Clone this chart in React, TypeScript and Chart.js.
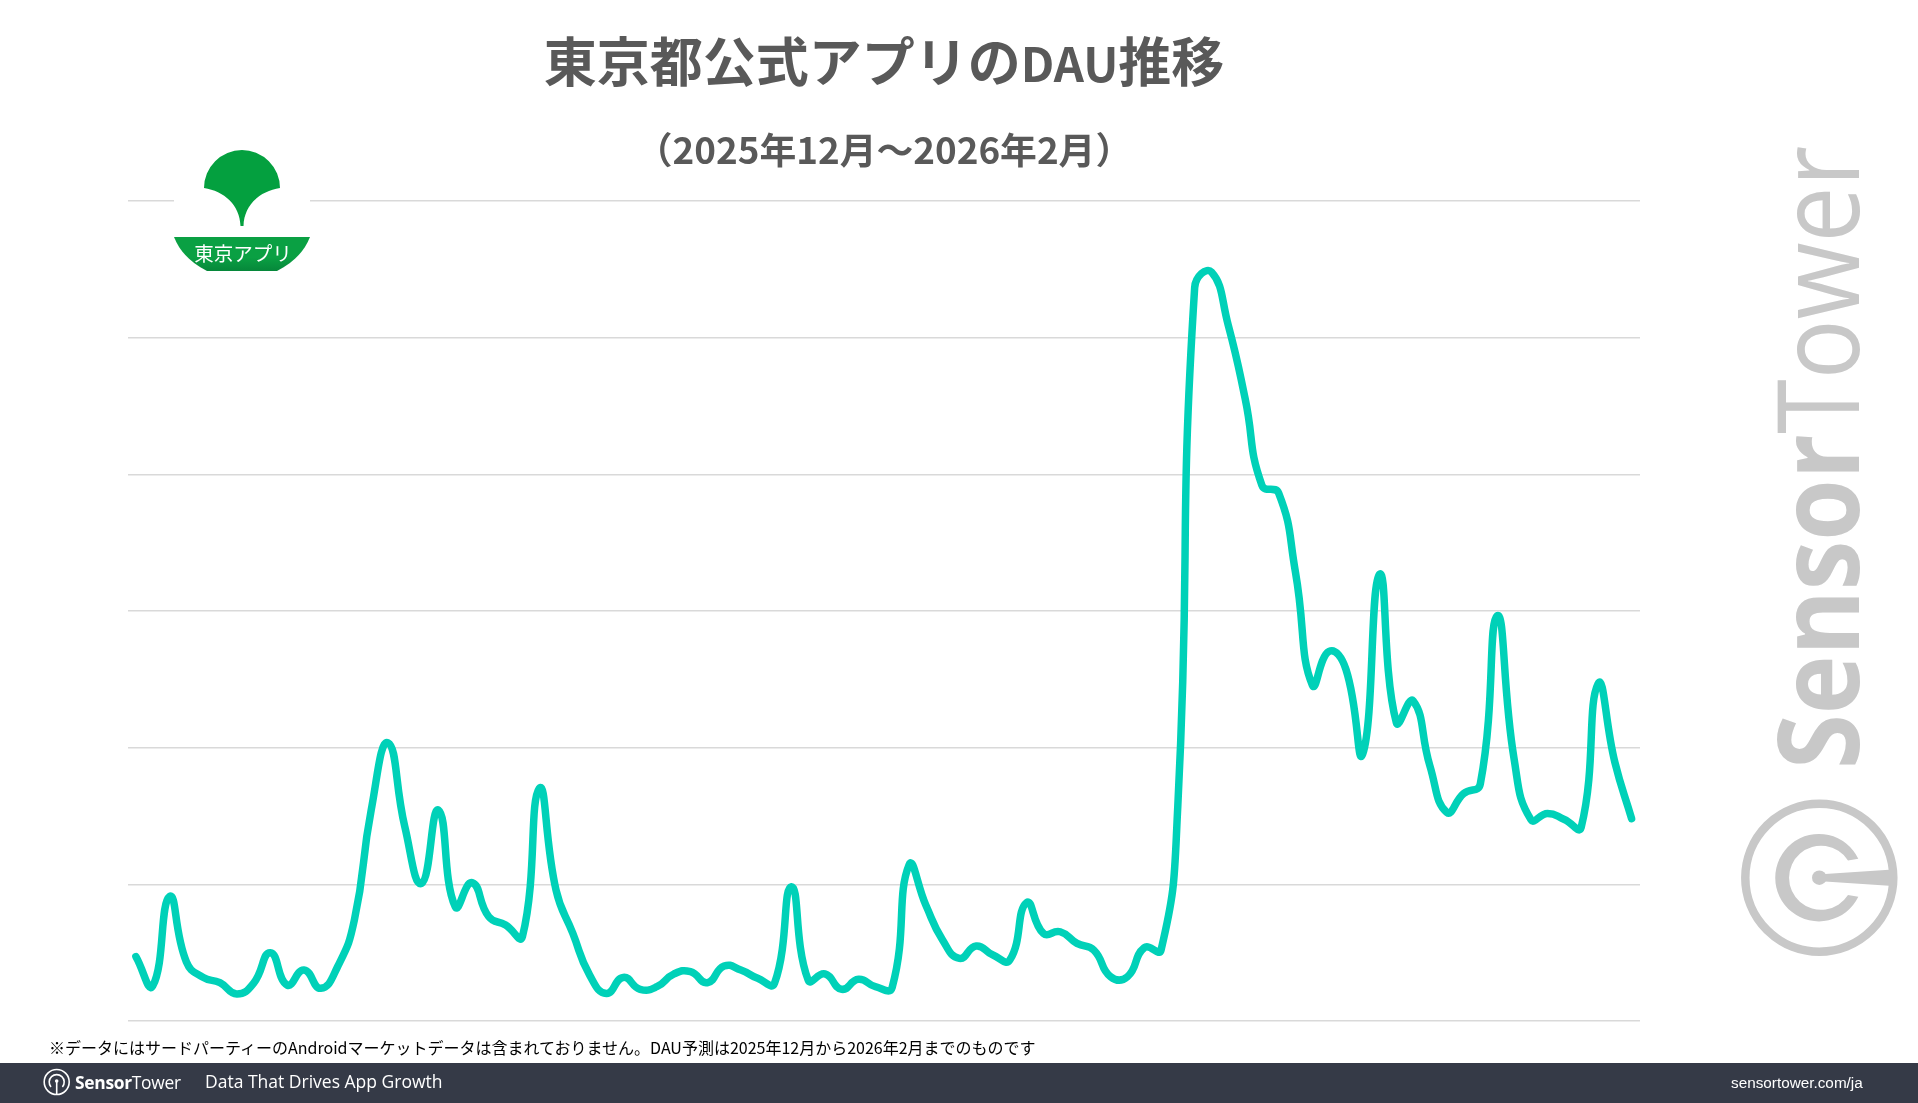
import { useEffect, useRef } from 'react'
import { Chart, registerables } from 'chart.js'

Chart.register(...registerables)

// DAU, unit = 1/10 of a grid step (the original has no axis labels)
const decDau = [
  4.71, 2.56, 9.1, 4.34, 3.19, 2.8, 1.98, 2.76, 5.0, 2.63, 3.73, 2.39, 3.97, 7.39, 15.43, 20.36,
  14.22, 10.07, 15.43, 8.36, 10.12, 7.63, 7.02, 6.17, 17.02, 9.58, 6.41, 3.36, 2.02, 3.19, 2.32,
]
const janDau = [
  2.51, 3.43, 3.61, 2.8, 4.02, 3.73, 3.12, 2.76, 9.83, 3.0, 3.44, 2.32, 3.05, 2.51, 2.46, 11.41,
  8.49, 5.93, 4.58, 5.49, 4.83, 4.46, 8.66, 6.41, 6.53, 5.68, 5.19, 3.24, 3.24, 5.36, 5.19,
]
const febDau = [
  15.8, 53.66, 54.8, 50.91, 45.56, 39.2, 38.62, 32.83, 24.59, 27.05, 25.74, 19.53, 32.69, 21.84,
  23.43, 18.66, 15.27, 16.63, 17.36, 29.65, 19.24, 14.75, 15.19, 14.75, 14.17, 24.67, 18.95, 14.81,
]
const dau = [...decDau, ...janDau, ...febDau]

const days = [
  ...decDau.map((_, i) => `2025-12-${i + 1}`),
  ...janDau.map((_, i) => `2026-01-${i + 1}`),
  ...febDau.map((_, i) => `2026-02-${i + 1}`),
]

const subtitleText = '（2025年12月〜2026年2月）'
const noteText = '※データにはサードパーティーのAndroidマーケットデータは含まれておりません。DAU予測は2025年12月から2026年2月までのものです'

const CJK = '"Noto Sans CJK JP", "Noto Sans", sans-serif'
const LATIN = '"Open Sans", "Noto Sans", sans-serif'

function Overlay() {
  return (
    <svg width={1918} height={1103} style={{ position: 'absolute', left: 0, top: 0 }}>
      <defs>
        <linearGradient id="band" x1="0" y1="0" x2="0" y2="1">
          <stop offset="0" stopColor="#0aa043" />
          <stop offset="0.6" stopColor="#0aa043" />
          <stop offset="1" stopColor="#06873a" />
        </linearGradient>
      </defs>

      {/* DAU is visibly smaller than the kana and kanji around it */}
      <text x={884} y={82} textAnchor="middle" fontFamily={CJK} fontWeight={700} fontSize={53} fill="#595959">
        東京都公式アプリの<tspan fontSize={47}>DAU</tspan>推移
      </text>
      <text x={884} y={164} textAnchor="middle" fontFamily={CJK} fontWeight={700} fontSize={36.8} fill="#595959">
        {subtitleText}
      </text>

      {/* tokyo app logo, sits on top of the top gridline */}
      <rect x={174} y={190} width={136} height={48} fill="#fff" />
      <path
        d="M204 188 A38 38 0 0 1 280 188 C260 191 244 205 243.5 226 L240.5 226 C240 205 224 191 204 188 Z"
        fill="#04a03f"
      />
      <path d="M174 237 H310 C304 252 293 263 277 271 H207 C191 263 180 252 174 237 Z" fill="url(#band)" />
      <text x={243} y={261} textAnchor="middle" fontFamily={CJK} fontWeight={400} fontSize={19.5} fill="#fff">
        東京アプリ
      </text>

      {/* watermark */}
      <g fill="#c8c8c8">
        <text
          transform="translate(1859 769) rotate(-90) scale(0.88 1)"
          fontFamily={LATIN}
          fontSize={113}
        >
          <tspan fontWeight={700}>Sensor</tspan>
          <tspan fontWeight={400}>Tower</tspan>
        </text>
        <circle cx={1819.3} cy={877.7} r={74} fill="none" stroke="#c8c8c8" strokeWidth={8.5} />
        <path
          d="M1858.3 858.7 A43.7 43.7 0 1 0 1858.3 896.7 L1848 895 A32 32 0 1 1 1848 860.5 Z"
        />
        <circle cx={1819.3} cy={877.7} r={7.3} />
        <path d="M1825 874 L1889 869.7 V885.7 L1825 881.5 Z" />
      </g>

      <text x={49} y={1054} fontFamily={CJK} fontSize={16} fill="#000">
        {noteText}
      </text>

      {/* footer */}
      <rect x={0} y={1063} width={1918} height={40} fill="#353a47" />
      <circle cx={56.7} cy={1082} r={12.5} fill="none" stroke="#fff" strokeWidth={1.6} />
      <path d="M56.7 1094 V1082" stroke="#fff" strokeWidth={1.6} />
      <path d="M51 1087 A7.5 7.5 0 1 1 62.4 1087" fill="none" stroke="#fff" strokeWidth={1.6} />
      <circle cx={56.7} cy={1081} r={1.8} fill="#fff" />
      <text x={75} y={1089} fontFamily={LATIN} fontSize={17.4} fill="#fff" letterSpacing={-0.3}>
        <tspan fontWeight={700}>Sensor</tspan>
        <tspan fontWeight={400}>Tower</tspan>
      </text>
      <text x={205} y={1088} fontFamily={LATIN} fontSize={17.5} fill="#fff">
        Data That Drives App Growth
      </text>
      <text x={1731} y={1088} fontFamily='"Liberation Sans", Arial, sans-serif' fontSize={15.3} fill="#fff">
        sensortower.com/ja
      </text>
    </svg>
  )
}

export default function App() {
  const chartRef = useRef<HTMLCanvasElement>(null)

  useEffect(() => {
    if (!chartRef.current) return

    const chart = new Chart(chartRef.current, {
      type: 'line',
      data: {
        labels: days,
        datasets: [
          {
            label: 'DAU',
            data: dau,
            borderColor: '#00d1b8',
            borderWidth: 7.5,
            borderCapStyle: 'round',
            borderJoinStyle: 'round',
            pointRadius: 0,
            tension: 0.5,
            fill: false,
          },
        ],
      },
      options: {
        responsive: false,
        animation: false,
        layout: { padding: { left: 127.5, right: 278, top: 201, bottom: 82 } },
        plugins: { legend: { display: false }, tooltip: { enabled: false } },
        scales: {
          x: {
            display: false,
            offset: true,
          },
          y: {
            min: 0,
            max: 60,
            ticks: { display: false, stepSize: 10 },
            grid: { color: '#d9d9d9', lineWidth: 1.5, drawTicks: false },
            border: { display: false },
          },
        },
      },
    })

    return () => chart.destroy()
  }, [])

  return (
    <div style={{ position: 'absolute', left: 0, top: 0, width: 1918, height: 1103, background: '#fff', overflow: 'hidden' }}>
      <canvas ref={chartRef} width={1918} height={1103} style={{ position: 'absolute', left: 0, top: 0 }} />
      <Overlay />
    </div>
  )
}
